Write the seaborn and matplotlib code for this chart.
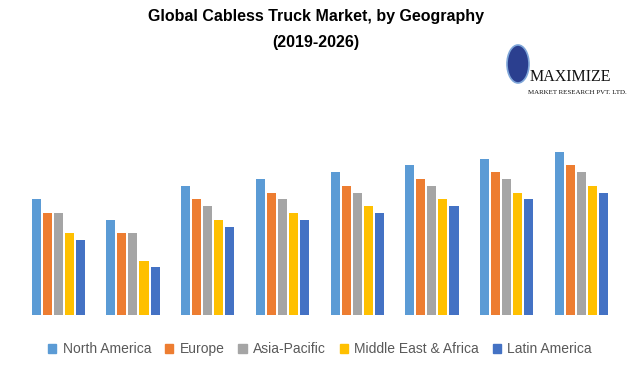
import matplotlib
matplotlib.use("Agg")
import matplotlib.pyplot as plt
import seaborn as sns
import pandas as pd
from matplotlib.patches import Ellipse

years = ["2019", "2020", "2021", "2022", "2023", "2024", "2025", "2026"]
regions = ["North America", "Europe", "Asia-Pacific", "Middle East & Africa", "Latin America"]
north_america = [17, 14, 19, 20, 21, 22, 23, 24]
europe = [15, 12, 17, 18, 19, 20, 21, 22]
asia_pacific = [15, 12, 16, 17, 18, 19, 20, 21]
mea = [12, 8, 14, 15, 16, 17, 18, 19]
latin_america = [11, 7, 13, 14, 15, 16, 17, 18]
colors = ["#5B9BD5", "#ED7D31", "#A5A5A5", "#FFC000", "#4472C4"]

series = [north_america, europe, asia_pacific, mea, latin_america]
rows = []
for reg, vals in zip(regions, series):
    for y, v in zip(years, vals):
        rows.append({"Year": y, "Region": reg, "Value": v})
df = pd.DataFrame(rows)

sns.set_style("white")
plt.rcParams['font.family'] = ['Liberation Sans', 'DejaVu Sans']

fig = plt.figure(figsize=(6.32, 3.65), dpi=100)
ax = fig.add_axes([0.033, 0.137, 0.946, 0.503])
sns.barplot(data=df, x="Year", y="Value", hue="Region", hue_order=regions,
            palette=colors, width=0.74, ax=ax, legend=False, saturation=1)

# add small gap between bars
for p in ax.patches:
    w = p.get_width()
    nw = w * 0.82
    p.set_x(p.get_x() + (w - nw) / 2)
    p.set_width(nw)
    p.set_linewidth(0)

ax.set_ylim(0, 27)
ax.set_xlim(-0.5, len(years) - 0.5)
ax.set_xticks([])
ax.set_yticks([])
ax.set_xlabel("")
ax.set_ylabel("")
for s in ax.spines.values():
    s.set_visible(False)

fig.text(0.5, 1 - 17 / 365, "Global Cabless Truck Market, by Geography", ha="center", va="center",
         fontsize=11.5, fontweight="bold", color="#000000")
fig.text(0.5, 1 - 42 / 365, "(2019-2026)", ha="center", va="center",
         fontsize=11.5, fontweight="bold", color="#000000")

# logo
fig.patches.append(Ellipse((518 / 632, 1 - 64 / 365), 22 / 632, 38 / 365,
                           transform=fig.transFigure, facecolor="#2B3F8F",
                           edgecolor="#7FA6D9", lw=1.2))
fig.text(530 / 632, 1 - 77 / 365, "MAXIMIZE", ha="left", va="center",
         fontsize=11.5, family="Liberation Serif", color="#111111")
fig.text(528 / 632, 1 - 92 / 365, "MARKET RESEARCH PVT. LTD.", ha="left", va="center",
         fontsize=5.0, family="Liberation Serif", color="#111111")

# legend
handles = [plt.Rectangle((0, 0), 1, 1, color=c) for c in colors]
fig.legend(handles, regions, loc="center", bbox_to_anchor=(320 / 632, 1 - 349 / 365),
           ncol=5, frameon=False, fontsize=10, handlelength=0.6, handleheight=0.6,
           handletextpad=0.45, columnspacing=1.0, labelcolor="#595959")

fig.savefig("out.png", dpi=100)
